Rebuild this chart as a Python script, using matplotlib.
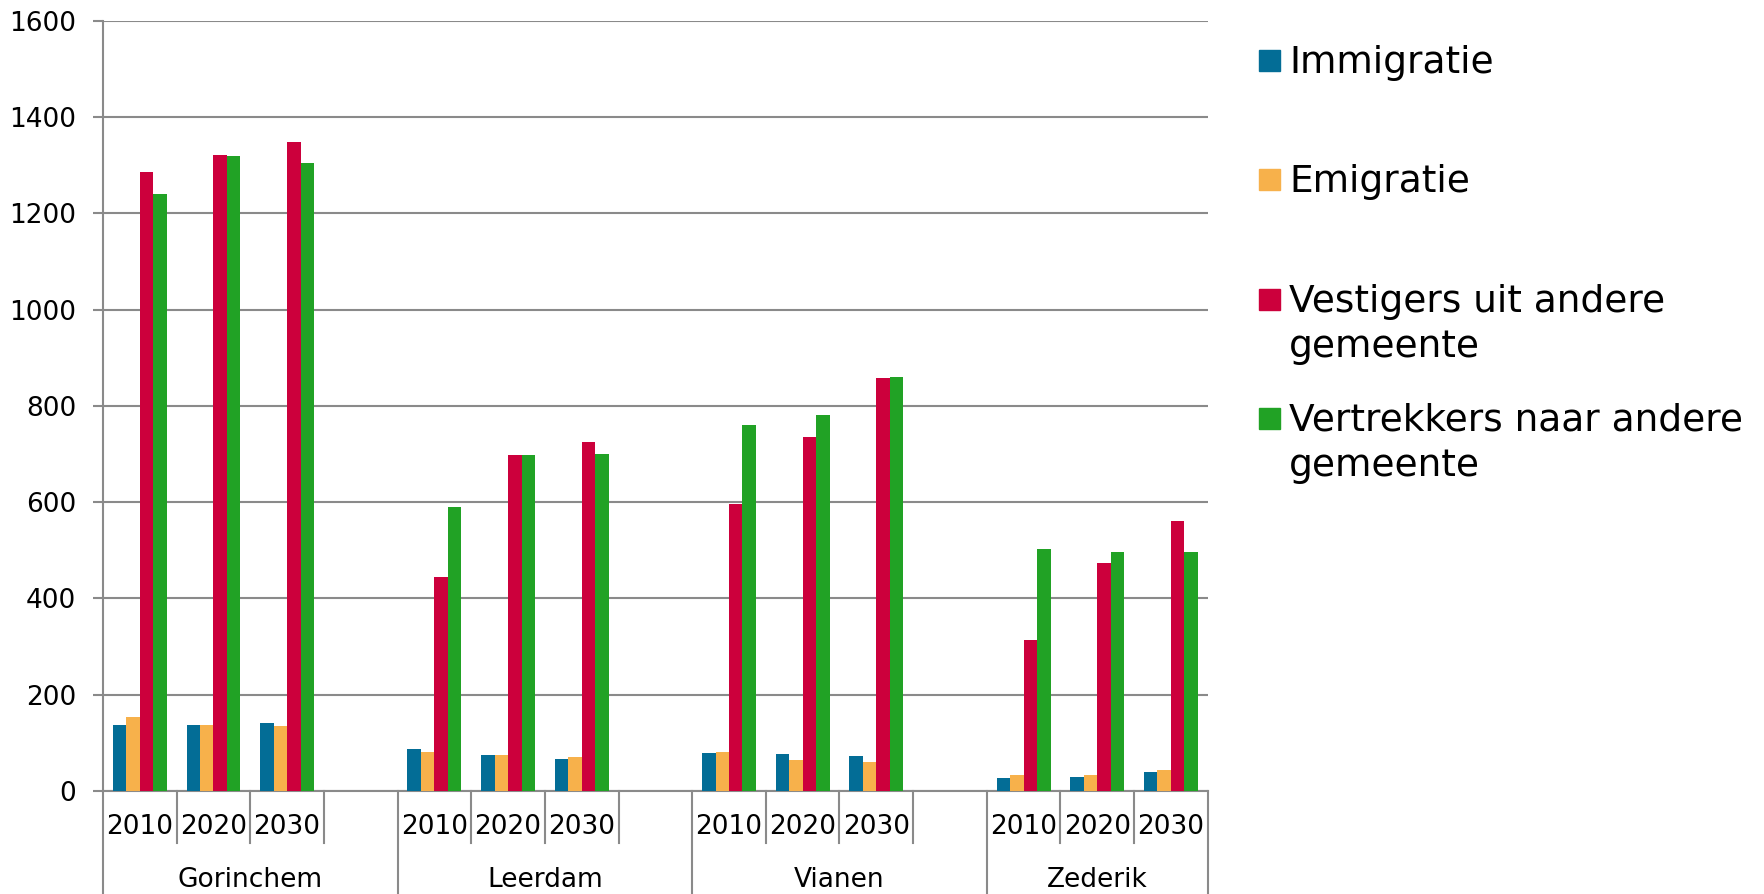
import matplotlib
matplotlib.use("Agg")
import matplotlib.pyplot as plt
from matplotlib.patches import Rectangle
import matplotlib.transforms as mtransforms

# ---- data ----
gemeenten = ["Gorinchem", "Leerdam", "Vianen", "Zederik"]
jaren = ["2010", "2020", "2030"]
series_names = ["Immigratie", "Emigratie", "Vestigers uit andere\ngemeente",
                "Vertrekkers naar andere\ngemeente"]
colors = ["#036d96", "#f7b14b", "#cc003c", "#21a225"]

immigratie = [138, 137, 141, 88, 74, 66, 79, 76, 73, 26, 29, 40]
emigratie = [153, 137, 136, 81, 74, 70, 81, 64, 61, 33, 33, 44]
vestigers = [1286, 1321, 1348, 445, 698, 724, 596, 735, 858, 314, 474, 560]
vertrekkers = [1240, 1319, 1304, 590, 698, 701, 760, 782, 860, 502, 497, 497]
series = [immigratie, emigratie, vestigers, vertrekkers]
y_ticks = [0, 200, 400, 600, 800, 1000, 1200, 1400, 1600]

# ---- layout ----
W, H = 1765, 894
fig = plt.figure(figsize=(W / 100, H / 100), dpi=100)
ax_l, ax_r, ax_b, ax_t = 103, 1207.7, 791, 20.7
ax = fig.add_axes([ax_l / W, 1 - ax_b / H, (ax_r - ax_l) / W, (ax_b - ax_t) / H])

grid_c = "#8a8a8a"
n_slots = len(gemeenten) * 4 - 1
bw = 0.183
fs = 19

for k, vals in enumerate(series):
    xs = []
    for g in range(len(gemeenten)):
        for j in range(len(jaren)):
            slot = g * 4 + j
            xs.append(slot + 0.5 + (k - 1.5) * bw)
    ax.bar(xs, vals, width=bw, color=colors[k], linewidth=0, zorder=3)

ax.set_xlim(0, n_slots)
ax.set_ylim(0, 1600)
ax.set_yticks(y_ticks)
ax.set_yticklabels([str(v) for v in y_ticks], fontsize=fs)
ax.tick_params(axis="y", length=7.2, width=1.5, color=grid_c, pad=12)
ax.set_xticks([])
ax.yaxis.grid(True, color=grid_c, linewidth=1.5, zorder=0)
ax.set_axisbelow(True)
for s in ["top", "right"]:
    ax.spines[s].set_visible(False)
for s in ["left", "bottom"]:
    ax.spines[s].set_color(grid_c)
    ax.spines[s].set_linewidth(1.5)

# hierarchical category axis
trans = mtransforms.blended_transform_factory(ax.transData, ax.transAxes)
axh = ax_b - ax_t
short_y = -(843 - ax_b) / axh
long_y = -(H - ax_b + 5) / axh
group_edges = [0, 4, 8, 12, n_slots]
for x in range(0, n_slots + 1):
    y_end = long_y if x in group_edges else short_y
    ax.plot([x, x], [0, y_end], transform=trans, color=grid_c, lw=1.5,
            clip_on=False, zorder=2)

year_y = -(826.7 - ax_b) / axh
group_y = -(880 - ax_b) / axh
for g, name in enumerate(gemeenten):
    for j, jr in enumerate(jaren):
        ax.text(g * 4 + j + 0.5, year_y, jr, transform=trans, ha="center",
                va="center", fontsize=fs)
    ax.text((group_edges[g] + group_edges[g + 1]) / 2, group_y, name,
            transform=trans, ha="center", va="center", fontsize=fs)

# legend (manual)
base_lines = [72.7, 191.7, 311.7, 430.7]
line_gap = 45
for k, name in enumerate(series_names):
    yb = base_lines[k]
    fig.add_artist(Rectangle((1259 / W, 1 - (yb - 2) / H), 21 / W, 21 / H,
                             transform=fig.transFigure, color=colors[k]))
    for li, line in enumerate(name.split("\n")):
        fig.text(1289 / W, 1 - (yb + li * line_gap) / H, line, fontsize=27,
                 ha="left", va="baseline")

fig.savefig("out.png", dpi=100)
